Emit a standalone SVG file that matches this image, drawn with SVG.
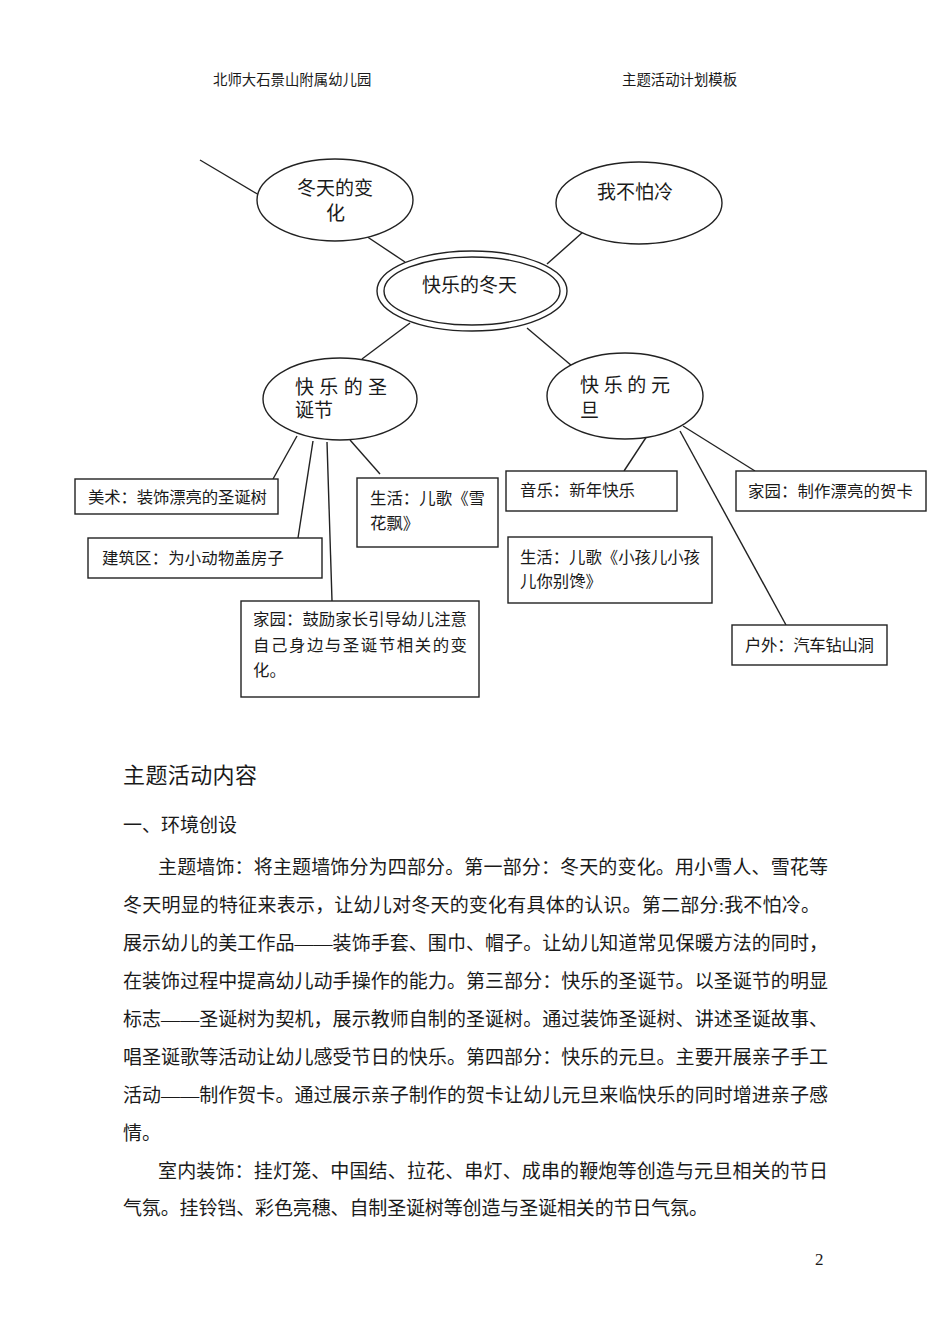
<svg xmlns="http://www.w3.org/2000/svg" width="950" height="1344" viewBox="0 0 950 1344">
<style>
  text { font-family: "Liberation Serif", "Noto Sans CJK SC", serif; fill: #1a1a1a; }
  .hdr { font-size: 14.4px; }
  .ell { font-size: 19px; }
  .box { font-size: 16.4px; }
  .body { font-size: 19px; }
  .title { font-size: 22px; }
  .shape { fill: #fff; stroke: #222; stroke-width: 1.4; }
  .conn line { stroke: #222; stroke-width: 1.4; }
</style>
<rect width="950" height="1344" fill="#fff"/>

<g id="header">
  <text class="hdr" x="213" y="85">北师大石景山附属幼儿园</text>
  <text class="hdr" x="622" y="85">主题活动计划模板</text>
</g>

<g id="connectors" class="conn">
  <line x1="200" y1="160" x2="259" y2="195"/>
  <line x1="366" y1="236" x2="405" y2="262"/>
  <line x1="583" y1="232" x2="547" y2="264"/>
  <line x1="410" y1="323" x2="362" y2="359"/>
  <line x1="527" y1="328" x2="572" y2="366"/>
  <line x1="297" y1="436" x2="273" y2="479"/>
  <line x1="313" y1="441" x2="298" y2="538"/>
  <line x1="327" y1="442" x2="332" y2="601"/>
  <line x1="350" y1="440" x2="380" y2="474"/>
  <line x1="647" y1="436" x2="624" y2="471"/>
  <line x1="680" y1="431" x2="786" y2="625"/>
  <line x1="683" y1="426" x2="755" y2="471"/>
</g>

<g id="node-winter-change">
  <ellipse class="shape" cx="335" cy="200" rx="78" ry="41"/>
  <text class="ell" x="297" y="195">冬天的变</text>
  <text class="ell" x="326" y="220">化</text>
</g>

<g id="node-not-afraid">
  <ellipse class="shape" cx="639" cy="203" rx="83" ry="41"/>
  <text class="ell" x="597" y="199">我不怕冷</text>
</g>

<g id="node-center">
  <ellipse class="shape" cx="472" cy="291" rx="95" ry="40"/>
  <ellipse class="shape" cx="472" cy="291" rx="88" ry="34"/>
  <text class="ell" x="422" y="292">快乐的冬天</text>
</g>

<g id="node-christmas">
  <ellipse class="shape" cx="340" cy="399" rx="77" ry="41"/>
  <text class="ell" x="295" y="394" textLength="92">快 乐 的 圣</text>
  <text class="ell" x="295" y="417">诞节</text>
</g>

<g id="node-newyear">
  <ellipse class="shape" cx="625" cy="396" rx="78" ry="43"/>
  <text class="ell" x="580" y="392" textLength="90">快 乐 的 元</text>
  <text class="ell" x="580" y="417">旦</text>
</g>

<g id="box-art">
  <rect class="shape" x="75" y="479" width="203" height="35"/>
  <text class="box" x="88" y="503" textLength="179">美术：装饰漂亮的圣诞树</text>
</g>

<g id="box-build">
  <rect class="shape" x="88" y="538" width="234" height="40"/>
  <text class="box" x="102" y="564" textLength="182">建筑区：为小动物盖房子</text>
</g>

<g id="box-home1">
  <rect class="shape" x="241" y="601" width="238" height="96"/>
  <text class="box" x="253" y="625" textLength="214">家园：鼓励家长引导幼儿注意</text>
  <text class="box" x="253" y="651" textLength="214">自己身边与圣诞节相关的变</text>
  <text class="box" x="253" y="676">化。</text>
</g>

<g id="box-life1">
  <rect class="shape" x="357" y="478" width="141" height="69"/>
  <text class="box" x="370" y="504" textLength="115">生活：儿歌《雪</text>
  <text class="box" x="370" y="529">花飘》</text>
</g>

<g id="box-music">
  <rect class="shape" x="506" y="471" width="171" height="40"/>
  <text class="box" x="520" y="496" textLength="115">音乐：新年快乐</text>
</g>

<g id="box-home2">
  <rect class="shape" x="736" y="471" width="190" height="40"/>
  <text class="box" x="748" y="497" textLength="165">家园：制作漂亮的贺卡</text>
</g>

<g id="box-life2">
  <rect class="shape" x="508" y="537" width="204" height="66"/>
  <text class="box" x="520" y="563" textLength="180">生活：儿歌《小孩儿小孩</text>
  <text class="box" x="520" y="587">儿你别馋》</text>
</g>

<g id="box-outdoor">
  <rect class="shape" x="732" y="625" width="155" height="40"/>
  <text class="box" x="745" y="651" textLength="129">户外：汽车钻山洞</text>
</g>

<g id="content">
  <text class="title" x="123" y="783" textLength="134">主题活动内容</text>
  <text class="body" x="123" y="832" textLength="114">一、环境创设</text>
  <text class="body" x="158" y="874" textLength="670">主题墙饰：将主题墙饰分为四部分。第一部分：冬天的变化。用小雪人、雪花等</text>
  <text class="body" x="123" y="912" textLength="697">冬天明显的特征来表示，让幼儿对冬天的变化有具体的认识。第二部分:我不怕冷。</text>
  <text class="body" x="123" y="950" textLength="705">展示幼儿的美工作品——装饰手套、围巾、帽子。让幼儿知道常见保暖方法的同时，</text>
  <text class="body" x="123" y="988" textLength="705">在装饰过程中提高幼儿动手操作的能力。第三部分：快乐的圣诞节。以圣诞节的明显</text>
  <text class="body" x="123" y="1026" textLength="705">标志——圣诞树为契机，展示教师自制的圣诞树。通过装饰圣诞树、讲述圣诞故事、</text>
  <text class="body" x="123" y="1064" textLength="705">唱圣诞歌等活动让幼儿感受节日的快乐。第四部分：快乐的元旦。主要开展亲子手工</text>
  <text class="body" x="123" y="1102" textLength="705">活动——制作贺卡。通过展示亲子制作的贺卡让幼儿元旦来临快乐的同时增进亲子感</text>
  <text class="body" x="123" y="1140">情。</text>
  <text class="body" x="158" y="1178" textLength="670">室内装饰：挂灯笼、中国结、拉花、串灯、成串的鞭炮等创造与元旦相关的节日</text>
  <text class="body" x="123" y="1215" textLength="585">气氛。挂铃铛、彩色亮穗、自制圣诞树等创造与圣诞相关的节日气氛。</text>
</g>

<g id="page-number">
  <text x="815" y="1265" style="font-size:17px">2</text>
</g>
</svg>
